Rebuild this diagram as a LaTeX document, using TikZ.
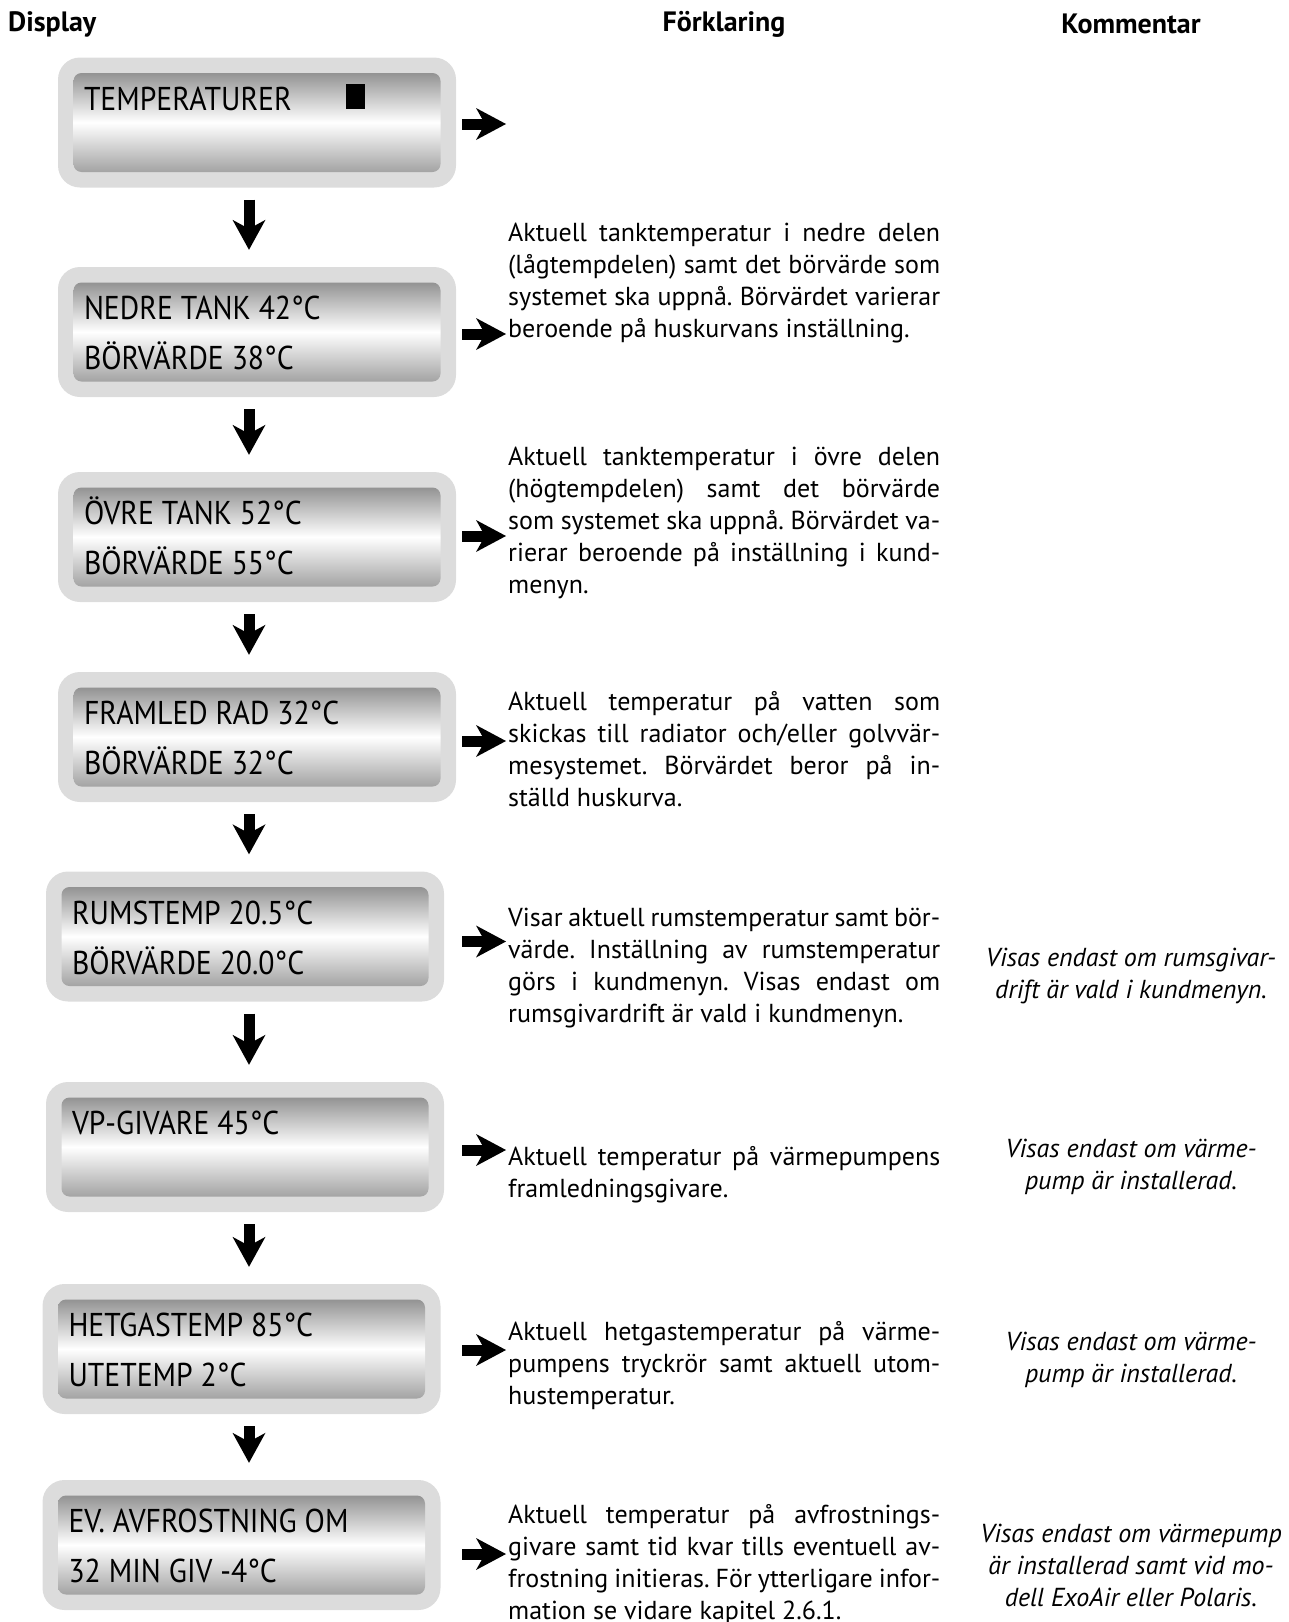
\documentclass[tikz,border=0pt]{standalone}
\usepackage{fontspec}
\setmainfont{PT Sans}
\newfontfamily\lcdfont{PT Sans}[FakeStretch=0.9]
\usetikzlibrary{arrows.meta,positioning}
\definecolor{framegray}{HTML}{DCDCDC}
\definecolor{lcdgray}{HTML}{939393}
\tikzstyle{dispframe} = [rectangle, rounded corners=22pt, fill=framegray,
    minimum width=398pt, minimum height=130pt, inner sep=0pt]
\tikzstyle{dispscreen} = [rectangle, rounded corners=8pt, top color=lcdgray,
    bottom color=lcdgray!85, middle color=white, minimum width=367pt, minimum height=99pt, inner sep=0pt]
\tikzstyle{disptext} = [anchor=base west, inner sep=0pt, font=\lcdfont\fontsize{33pt}{33pt}\selectfont]
\tikzstyle{expltext} = [anchor=north west, inner sep=0pt, align=left, font=\fontsize{26pt}{32pt}\selectfont]
\tikzstyle{commtext} = [anchor=north, inner sep=0pt, align=center, font=\itshape\fontsize{26pt}{32pt}\selectfont]
\tikzstyle{colhead} = [inner sep=0pt, font=\bfseries\fontsize{28pt}{32pt}\selectfont]
\tikzstyle{darrow} = [line width=11pt, -{Stealth[length=30pt, width=33pt, inset=9pt, line width=0pt]},
    shorten <=12pt, shorten >=17pt]
\tikzstyle{rarrow} = [line width=11pt, -{Stealth[length=30pt, width=32pt, inset=9pt, line width=0pt]},
    shorten >=2pt]
\newcommand{\fullline}[1]{\makebox[432pt][s]{#1}}
\frenchspacing

\begin{document}
\begin{tikzpicture}[x=1pt, y=-1pt]
	\useasboundingbox (0,0) rectangle (1288,1622);

	% column headings
	\node [colhead, anchor=west] (hdisp) at (8,24) {Display};
	\node [colhead] (hexpl) at (724,24) {Förklaring};
	\node [colhead] (hcomm) at (1131,24) {Kommentar};

	% displays
	\node [dispframe] (b1) at (257,122.5) {};
	\node [dispscreen] (s1) at (b1) {};
	\node [disptext] (t1a) at ([xshift=10.5pt,yshift=-37.5pt]s1.north west) {TEMPERATURER};
	\node [fill=black, minimum width=19pt, minimum height=25pt, inner sep=0pt, anchor=north west]
		(cursor) at ([xshift=272pt,yshift=-11pt]s1.north west) {};

	\node [dispframe] (b2) at (257,332) {};
	\node [dispscreen] (s2) at (b2) {};
	\node [disptext] (t2a) at ([xshift=10.5pt,yshift=-37.5pt]s2.north west) {NEDRE TANK 42°C};
	\node [disptext] (t2b) at ([xshift=10.5pt,yshift=-87.5pt]s2.north west) {BÖRVÄRDE 38°C};

	\node [dispframe] (b3) at (257,537) {};
	\node [dispscreen] (s3) at (b3) {};
	\node [disptext] (t3a) at ([xshift=10.5pt,yshift=-37.5pt]s3.north west) {ÖVRE TANK 52°C};
	\node [disptext] (t3b) at ([xshift=10.5pt,yshift=-87.5pt]s3.north west) {BÖRVÄRDE 55°C};

	\node [dispframe] (b4) at (257,737) {};
	\node [dispscreen] (s4) at (b4) {};
	\node [disptext] (t4a) at ([xshift=10.5pt,yshift=-37.5pt]s4.north west) {FRAMLED RAD 32°C};
	\node [disptext] (t4b) at ([xshift=10.5pt,yshift=-87.5pt]s4.north west) {BÖRVÄRDE 32°C};

	\node [dispframe] (b5) at (245,936.5) {};
	\node [dispscreen] (s5) at (b5) {};
	\node [disptext] (t5a) at ([xshift=10.5pt,yshift=-37.5pt]s5.north west) {RUMSTEMP 20.5°C};
	\node [disptext] (t5b) at ([xshift=10.5pt,yshift=-87.5pt]s5.north west) {BÖRVÄRDE 20.0°C};

	\node [dispframe] (b6) at (245,1147) {};
	\node [dispscreen] (s6) at (b6) {};
	\node [disptext] (t6a) at ([xshift=10.5pt,yshift=-37.5pt]s6.north west) {VP-GIVARE 45°C};

	\node [dispframe] (b7) at (241.5,1349) {};
	\node [dispscreen] (s7) at (b7) {};
	\node [disptext] (t7a) at ([xshift=10.5pt,yshift=-37.5pt]s7.north west) {HETGASTEMP 85°C};
	\node [disptext] (t7b) at ([xshift=10.5pt,yshift=-87.5pt]s7.north west) {UTETEMP 2°C};

	\node [dispframe] (b8) at (241.5,1545) {};
	\node [dispscreen] (s8) at (b8) {};
	\node [disptext] (t8a) at ([xshift=10.5pt,yshift=-37.5pt]s8.north west) {EV. AVFROSTNING OM};
	\node [disptext] (t8b) at ([xshift=10.5pt,yshift=-87.5pt]s8.north west) {32 MIN GIV -4°C};

	% explanations
	\node [expltext] (e2) at (508,223) {\fullline{Aktuell tanktemperatur i nedre delen}\\
		\fullline{(lågtempdelen) samt det börvärde som}\\
		\fullline{systemet ska uppnå. Börvärdet varierar}\\
		beroende på huskurvans inställning.};
	\node [expltext] (e3) at (508,447) {\fullline{Aktuell tanktemperatur i övre delen}\\
		\fullline{(högtempdelen) samt det börvärde}\\
		\fullline{som systemet ska uppnå. Börvärdet va-}\\
		\fullline{rierar beroende på inställning i kund-}\\
		menyn.};
	\node [expltext] (e4) at (508,691) {\fullline{Aktuell temperatur på vatten som}\\
		\fullline{skickas till radiator och/eller golvvär-}\\
		\fullline{mesystemet. Börvärdet beror på in-}\\
		ställd huskurva.};
	\node [expltext] (e5) at (508,908) {\fullline{Visar aktuell rumstemperatur samt bör-}\\
		\fullline{värde. Inställning av rumstemperatur}\\
		\fullline{görs i kundmenyn. Visas endast om}\\
		rumsgivardrift är vald i kundmenyn.};
	\node [expltext] (e6) at (508,1146) {\fullline{Aktuell temperatur på värmepumpens}\\
		framledningsgivare.};
	\node [expltext] (e7) at (508,1321) {\fullline{Aktuell hetgastemperatur på värme-}\\
		\fullline{pumpens tryckrör samt aktuell utom-}\\
		hustemperatur.};
	\node [expltext] (e8) at (508,1504) {\fullline{Aktuell temperatur på avfrostnings-}\\
		\fullline{givare samt tid kvar tills eventuell av-}\\
		\fullline{frostning initieras. För ytterligare infor-}\\
		mation se vidare kapitel 2.6.1.};

	% comments
	\node [commtext] (c5) at (1131,948) {Visas endast om rumsgivar-\\drift är vald i kundmenyn.};
	\node [commtext] (c6) at (1131,1139) {Visas endast om värme-\\pump är installerad.};
	\node [commtext] (c7) at (1131,1332) {Visas endast om värme-\\pump är installerad.};
	\node [commtext] (c8) at (1131,1524) {Visas endast om värmepump\\är installerad samt vid mo-\\dell ExoAir eller Polaris.};

	% arrows
	\coordinate (axis) at (249,0);
	\coordinate (rcol) at (462,0);
	\draw [darrow] (b1.south -| axis) -- (b2.north -| axis);
	\draw [darrow] (b2.south -| axis) -- (b3.north -| axis);
	\draw [darrow] (b3.south -| axis) -- (b4.north -| axis);
	\draw [darrow] (b4.south -| axis) -- (b5.north -| axis);
	\draw [darrow] (b5.south -| axis) -- (b6.north -| axis);
	\draw [darrow] (b6.south -| axis) -- (b7.north -| axis);
	\draw [darrow] (b7.south -| axis) -- (b8.north -| axis);

	\draw [rarrow] ([yshift=-1.5pt]rcol |- b1.east) -- ([yshift=-1.5pt]e2.west |- b1.east);
	\draw [rarrow] ([yshift=-2pt]rcol |- b2.east) -- ([yshift=-2pt]e2.west |- b2.east);
	\draw [rarrow] ([yshift=1pt]rcol |- b3.east) -- ([yshift=1pt]e3.west |- b3.east);
	\draw [rarrow] ([yshift=-4pt]rcol |- b4.east) -- ([yshift=-4pt]e4.west |- b4.east);
	\draw [rarrow] ([yshift=-5pt]rcol |- b5.east) -- ([yshift=-5pt]e5.west |- b5.east);
	\draw [rarrow] ([yshift=-3pt]rcol |- b6.east) -- ([yshift=-3pt]e6.west |- b6.east);
	\draw [rarrow] ([yshift=-1pt]rcol |- b7.east) -- ([yshift=-1pt]e7.west |- b7.east);
	\draw [rarrow] ([yshift=-9pt]rcol |- b8.east) -- ([yshift=-9pt]e8.west |- b8.east);
\end{tikzpicture}
\end{document}
